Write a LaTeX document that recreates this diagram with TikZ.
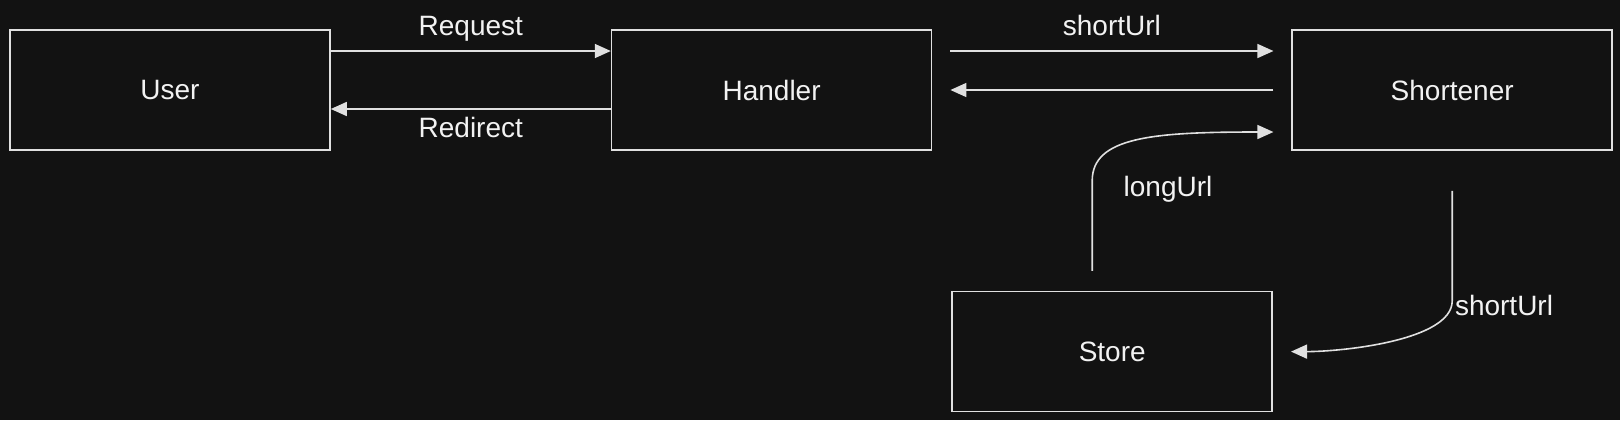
\documentclass[tikz,border=0pt]{standalone}
\usepackage{fontspec}
\setmainfont{Liberation Sans}
\usetikzlibrary{positioning,arrows.meta}
\definecolor{bgDark}{HTML}{121212}
\definecolor{lineGray}{HTML}{E0E0E0}
\definecolor{textWhite}{HTML}{F2F2F2}
\begin{document}
\begin{tikzpicture}[
  font=\fontsize{14}{17}\selectfont,
  box/.style={draw=lineGray, fill=bgDark, text=textWhite, line width=0.8pt, minimum width=160pt, minimum height=60pt},
  flow/.style={-{Triangle[length=8pt,width=7pt]}, draw=lineGray, line width=0.8pt},
  gap/.style={shorten <=9pt, shorten >=9pt},
  lbl/.style={text=textWhite, text height=10pt, text depth=3pt}]

% Background and fixed page size
\fill[bgDark] (0,0) rectangle (810pt,210pt);
\useasboundingbox (0,0) rectangle (810pt,210pt);

% Position the nodes
\node[box] (user) at (85pt,165pt) {User};
\node[box, right=140pt of user] (handler) {Handler};
\node[box, right=179.5pt of handler] (shortener) {Shortener};
\node[box, below right=70pt and 9.5pt of handler] (store) {Store};

% Draw the arrows between the nodes and label them.
\draw[flow] ([yshift=19.5pt]user.east) -- node[lbl, above=1pt] {Request} ([yshift=19.5pt]handler.west);
\draw[flow] ([yshift=-9.5pt]handler.west) -- node[lbl, below=0.5pt] {Redirect} ([yshift=-9.5pt]user.east);
\draw[flow, gap] ([yshift=19.5pt]handler.east) -- node[lbl, above=1pt] {shortUrl} ([yshift=19.5pt]shortener.west);
\draw[flow, gap] (shortener.west) -- (handler.east);

% Curved arrows to and from the store
\draw[flow] ([xshift=-10pt,yshift=10pt]store.north) -- node[lbl, pos=0.9, right=12pt] {longUrl} ++(0,45pt)
  .. controls +(0,22pt) and +(-60pt,0) .. ([xshift=-9pt,yshift=-21pt]shortener.west);
\draw[flow] ([yshift=-20pt]shortener.south) -- ++(0,-55pt) node[lbl, pos=1, anchor=north west, inner sep=1pt, yshift=4pt] {shortUrl}
  .. controls +(0,-20pt) and +(25pt,0) .. ([xshift=9pt]store.east);
\end{tikzpicture}
\end{document}
